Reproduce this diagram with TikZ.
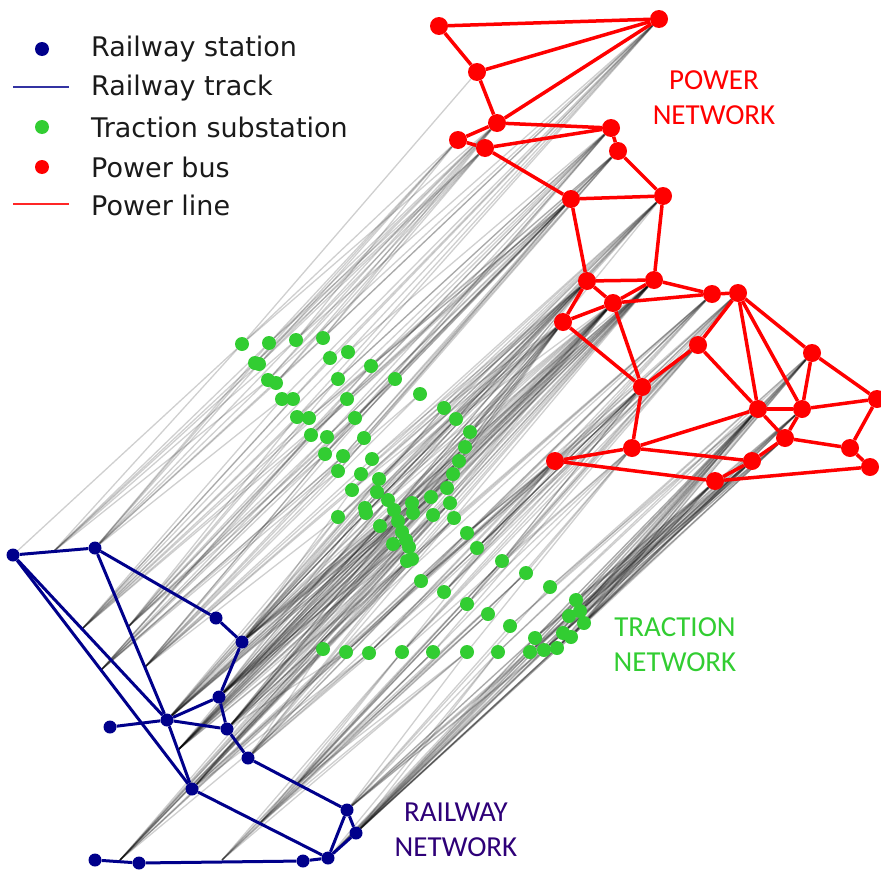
\documentclass[tikz,border=0pt]{standalone}
\usepackage{fontspec}
\newfontfamily\djv{DejaVu Sans}
\newfontfamily\carl{Carlito}
\usetikzlibrary{backgrounds}
\definecolor{rail}{RGB}{0,0,139}
\definecolor{trac}{RGB}{50,205,50}
\definecolor{pow}{RGB}{255,0,0}
\definecolor{railtxt}{RGB}{46,0,120}
\definecolor{legtxt}{RGB}{26,26,26}
\pgfdeclarelayer{back}\pgfdeclarelayer{mid}
\pgfsetlayers{back,mid,main}

\def\greenlist{1/242/344, 2/269/343, 3/296/340, 4/323/338, 5/348/352, 6/330/358, 7/371/366, 8/255/363, 9/259/364, 10/338/379, 11/395/379, 12/268/380, 13/276/383, 14/420/394, 15/282/399, 16/293/399, 17/347/399, 18/444/408, 19/456/419, 20/297/417, 21/309/418, 22/355/418, 23/470/432, 24/311/435, 25/327/437, 26/364/438, 27/465/447, 28/325/454, 29/343/456, 30/372/459, 31/459/461, 32/338/471, 33/361/474, 34/379/479, 35/453/474, 36/352/490, 37/377/492, 38/447/488, 39/388/500, 40/431/497, 41/412/503, 42/450/503, 43/338/517, 44/365/508, 45/366/513, 46/394/510, 47/413/513, 48/433/515, 49/380/526, 50/454/518, 51/467/533, 52/398/521, 53/402/532, 54/406/540, 55/393/544, 56/409/547, 57/477/548, 58/502/561, 59/412/559, 60/407/561, 61/421/581, 62/526/573, 63/444/592, 64/550/587, 65/467/604, 66/576/600, 67/580/611, 68/488/614, 69/569/616, 70/584/623, 71/510/626, 72/563/633, 73/571/637, 74/535/638, 75/323/649, 76/346/652, 77/369/653, 78/402/652, 79/433/652, 80/467/652, 81/498/652, 82/530/652, 83/544/650, 84/557/648}

\def\powerlist{P1/439/26, P2/659/19, P3/477/72, P4/497/123, P5/458/140, P6/485/148, P7/611/128, P8/618/151, P9/571/199, P10/663/196, P11/587/281, P12/654/280, Pc/712/294, Pd/738/293, Pe/613/303, Pf/563/322, Pg/698/345, Ph/812/353, Pi/642/387, Pj/877/399, Pk/758/409, Pl/802/409, Pm/785/438, Pn/632/448, Po/850/448, Pp/555/461, Pq/752/461, Pr/870/467, Ps/715/481}

\def\stationlist{R1/13/555, R2/95/548, R3/216/618, R4/242/642, R5/219/697, R6/110/727, R7/167/720, R8/227/729, R9/248/758, R10/192/789, R11/347/810, R12/356/833, R13/328/858, R14/303/861, R15/139/863, R16/95/860}

\def\attachlist{A1/53/552, A3/82/629, A4/128/627, A5/101/670, A6/145/667, A7/178/750, A8/120/860, A9/222/860, A10/260/823, A11/297/784}

\def\raillist{R1/13/555, A1/53/552, R2/95/548, A3/82/629, A4/128/627, A5/101/670, A6/145/667, R4/242/642, R5/219/697, R7/167/720, R8/227/729, A7/178/750, R9/248/758, R10/192/789, A8/120/860, A9/222/860, A10/260/823, A11/297/784, R11/347/810, R12/356/833, R13/328/858}

\begin{document}
\begin{tikzpicture}[x=1pt,y=-1pt,
  pbus/.style={circle,fill=pow,inner sep=0pt,minimum size=18pt},
  rst/.style={circle,fill=rail,inner sep=0pt,minimum size=13pt},
  tss/.style={circle,fill=trac,inner sep=0pt,minimum size=14pt},
  pline/.style={draw=pow,line width=3.5pt},
  rtrack/.style={draw=rail,line width=3pt},
  conn/.style={draw=black,opacity=0.19,line width=1.3pt},
  legtext/.style={anchor=west,text=legtxt,font=\djv\fontsize{27}{31}\selectfont,inner sep=0pt},
  netlabel/.style={align=center,font=\carl\fontsize{29}{35}\selectfont,inner sep=0pt}]
\useasboundingbox (0,0) rectangle (881,870);

% nodes
\foreach \n/\x/\y in \powerlist {\node[pbus] (\n) at (\x,\y) {};}
\foreach \n/\x/\y in \stationlist {\node[rst] (\n) at (\x,\y) {};}
\foreach \n/\x/\y in \attachlist {\coordinate (\n) at (\x,\y);}
\foreach \n/\x/\y in \greenlist {\node[tss] (G\n) at (\x,\y) {};}

% gray interlayer connectors
\begin{pgfonlayer}{back}
\foreach \gi/\gx/\gy in \greenlist {
  \foreach \pn/\px/\py in \powerlist {
    \pgfmathtruncatemacro\ok{and(abs(\px+\py-\gx-\gy)<44, \py<\gy-40)}
    \ifnum\ok=1 \draw[conn] (G\gi) -- (\pn);\fi
  }
  \foreach \rn/\rx/\ry in \raillist {
    \pgfmathtruncatemacro\ok{and(abs(\rx+\ry-\gx-\gy)<44, \ry>\gy+40)}
    \ifnum\ok=1 \draw[conn] (G\gi) -- (\rn);\fi
  }
}
\end{pgfonlayer}

% power lines
\begin{pgfonlayer}{mid}
\foreach \a/\b in {P1/P2, P1/P3, P3/P2, P2/P4, P3/P4, P4/P5, P5/P6, P4/P7, P6/P7, P7/P8, P6/P9, P8/P10, P9/P10, P9/P11, P10/P12, P11/P12, P11/Pe, P11/Pf, P12/Pe, P12/Pc, Pe/Pc, Pf/Pe, Pf/Pi, Pe/Pi, Pc/Pd, Pd/Pg, Pd/Pk, Pd/Pl, Pd/Ph, Pg/Pi, Pg/Pk, Ph/Pl, Ph/Pj, Pk/Pl, Pl/Pj, Pk/Pm, Pl/Pm, Pm/Pq, Pm/Po, Po/Pj, Po/Pr, Pi/Pn, Pn/Pk, Pn/Pp, Pn/Pq, Pp/Ps, Ps/Pr, Ps/Pq}
  {\draw[pline] (\a) -- (\b);}
% railway tracks
\foreach \a/\b in {R1/R2, R2/R3, R3/R4, R4/R5, R5/R7, R5/R8, R6/R7, R7/R8, R8/R9, R9/R11, R11/R13, R11/R12, R12/R13, R13/R14, R14/R15, R15/R16, R13/R10, R10/R7, R2/R7, R1/R7, R1/R10}
  {\draw[rtrack] (\a) -- (\b);}
\end{pgfonlayer}

% legend
\node[rst,minimum size=14pt] (lg1) at (42,49) {};
\coordinate (lt1a) at (13,87); \coordinate (lt1b) at (69,87);
\draw[draw=rail!80,line width=2.5pt] (lt1a) -- (lt1b);
\node[tss] (lg3) at (42,127) {};
\node[pbus,minimum size=14pt] (lg4) at (42,167) {};
\coordinate (lt2a) at (13,204); \coordinate (lt2b) at (69,204);
\draw[draw=pow!85,line width=2.5pt] (lt2a) -- (lt2b);
\node[legtext] (lx1) at (91,49) {Railway station};
\node[legtext] (lx2) at (91,88) {Railway track};
\node[legtext] (lx3) at (91,127) {Traction substation};
\node[legtext] (lx4) at (91,167) {Power bus};
\node[legtext] (lx5) at (91,205) {Power line};

% network labels
\node[netlabel,text=pow] (lpow) at (714,98) {POWER\\NETWORK};
\node[netlabel,text=trac] (ltrac) at (675,645) {TRACTION\\NETWORK};
\node[netlabel,text=railtxt] (lrail) at (456,830) {RAILWAY\\NETWORK};
\end{tikzpicture}
\end{document}
